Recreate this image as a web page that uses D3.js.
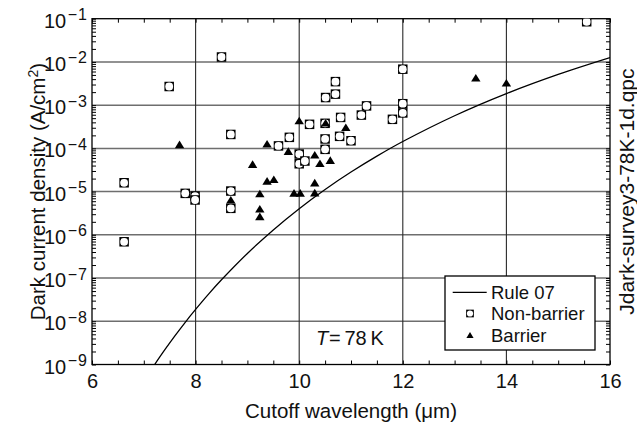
<!DOCTYPE html>
<html><head><meta charset="utf-8">
<script src="https://cdn.jsdelivr.net/npm/d3@7"></script>
<style>
body{margin:0;background:#fff}
svg{display:block}
text{font-family:"Liberation Sans",Arial,Helvetica,sans-serif;fill:#111}
</style>
</head><body>
<svg id="c" width="637" height="427"></svg>
<script>
// ---- data ----
const xTickLabels = [6, 8, 10, 12, 14, 16];
const yTickExponents = [-9, -8, -7, -6, -5, -4, -3, -2, -1];

const nonBarrierLambda = [6.62, 6.62, 7.49, 7.80, 7.99, 7.99, 8.50, 8.68, 8.68, 8.68, 9.60, 9.81, 10.00, 10.00, 10.11, 10.20, 10.51, 10.50, 10.50, 10.50, 10.70, 10.70, 10.78, 10.80, 11.00, 11.20, 11.30, 11.80, 12.00, 12.00, 12.00, 15.55];
const nonBarrierJ = [1.6e-5, 6.9e-7, 2.7e-3, 9.1e-6, 7.9e-6, 6.4e-6, 1.3e-2, 2.1e-4, 1.03e-5, 4.1e-6, 1.14e-4, 1.8e-4, 7.4e-5, 4.4e-5, 5.1e-5, 3.6e-4, 1.5e-3, 3.8e-4, 1.65e-4, 9.5e-5, 3.5e-3, 1.8e-3, 1.9e-4, 5.2e-4, 1.5e-4, 5.9e-4, 9.6e-4, 4.7e-4, 6.8e-3, 1.08e-3, 6.6e-4, 8.5e-2];

const barrierLambda = [7.69, 8.68, 9.10, 9.24, 9.24, 9.24, 9.38, 9.38, 9.51, 9.79, 9.90, 10.02, 10.00, 10.30, 10.30, 10.30, 10.40, 10.51, 10.60, 10.90, 13.41, 14.00];
const barrierJ = [1.2e-4, 6.3e-6, 4.2e-5, 8.8e-6, 3.9e-6, 2.6e-6, 1.24e-4, 1.72e-5, 1.88e-5, 8.4e-5, 9.1e-6, 9.1e-6, 4.3e-4, 6.9e-5, 1.57e-5, 9.2e-6, 4.4e-5, 3.8e-4, 5.2e-5, 3.0e-4, 4.2e-3, 3.2e-3];

const rule07Lambda = [7.2, 7.4, 7.6, 7.8, 8.0, 8.25, 8.5, 9.0, 9.5, 10.0, 10.5, 11.0, 11.5, 12.0, 13.0, 14.0, 15.0, 16.0];
const rule07J = [9.6e-10, 2.14e-9, 4.59e-9, 9.48e-9, 1.88e-8, 4.25e-8, 9.1e-8, 3.71e-7, 1.30e-6, 4.03e-6, 1.12e-5, 2.83e-5, 6.61e-5, 1.44e-4, 5.69e-4, 1.85e-3, 5.14e-3, 1.26e-2];

const legendLabels = ["Rule 07", "Non-barrier", "Barrier"];

// ---- layout ----
const L = 92, R = 610, T = 18.7, B = 364.5;
const svg = d3.select("#c");
const x = d3.scaleLinear().domain([xTickLabels[0], xTickLabels[xTickLabels.length-1]]).range([L, R]);
const y = d3.scaleLog().domain([Math.pow(10, yTickExponents[0]), Math.pow(10, yTickExponents[yTickExponents.length-1])]).range([B, T]);

svg.append("defs").append("clipPath").attr("id","plot")
  .append("rect").attr("x",L).attr("y",T).attr("width",R-L).attr("height",B-T);

// grid
const decades = yTickExponents.map(e => Math.pow(10, e));
svg.append("g").selectAll("line").data(decades.slice(1, -1)).join("line")
  .attr("x1", L).attr("x2", R).attr("y1", d => y(d)).attr("y2", d => y(d))
  .attr("stroke", "#6e6e6e").attr("stroke-width", 1.5);
svg.append("g").selectAll("line").data(xTickLabels.slice(1, -1)).join("line")
  .attr("y1", T).attr("y2", B).attr("x1", d => x(d)).attr("x2", d => x(d))
  .attr("stroke", "#2a2a2a").attr("stroke-width", 1.1);

// minor tick positions
const xMinor = d3.range(xTickLabels[0], xTickLabels[xTickLabels.length-1] + 0.01, 0.5);
const yMinor = [];
yTickExponents.forEach((e, i) => {
  if (i < yTickExponents.length - 1) { for (let m = 1; m <= 9; m++) yMinor.push(m * Math.pow(10, e)); }
  else yMinor.push(Math.pow(10, e));
});

function styleTicks(g) {
  g.select(".domain").remove();
  g.selectAll(".tick line").attr("stroke", "#000").attr("stroke-width", 1);
}
svg.append("g").attr("transform", `translate(0,${B})`)
  .call(d3.axisBottom(x).tickValues(xMinor).tickSize(-4).tickFormat(() => "")).call(styleTicks);
svg.append("g").attr("transform", `translate(0,${T})`)
  .call(d3.axisTop(x).tickValues(xMinor).tickSize(-4).tickFormat(() => "")).call(styleTicks);
svg.append("g").attr("transform", `translate(${L},0)`)
  .call(d3.axisLeft(y).tickValues(yMinor).tickSize(-4).tickFormat(() => "")).call(styleTicks);
svg.append("g").attr("transform", `translate(${R},0)`)
  .call(d3.axisRight(y).tickValues(yMinor).tickSize(-4).tickFormat(() => "")).call(styleTicks);

// x tick labels
const xl = svg.append("g").attr("transform", `translate(0,${B})`)
  .call(d3.axisBottom(x).tickValues(xTickLabels).tickSize(0).tickFormat(d3.format("d")));
xl.select(".domain").remove();
xl.attr("font-size", 20).attr("font-family", null);
xl.selectAll(".tick text").attr("y", 23.5).attr("dy", null).attr("fill", "#111");

// y tick labels with superscripts
const yl = svg.append("g").attr("transform", `translate(${L},0)`)
  .call(d3.axisLeft(y).tickValues(decades).tickSize(0).tickFormat(() => ""));
yl.select(".domain").remove();
yl.attr("font-size", 20).attr("font-family", null);
yl.selectAll(".tick text").each(function(d) {
  const t = d3.select(this).attr("x", -4).attr("y", 8.5).attr("dy", null).attr("fill", "#111");
  t.append("tspan").text("10");
  t.append("tspan").attr("dy", -7.5).attr("dx", 1.5).attr("font-size", 16).attr("letter-spacing", 1)
    .text("\u2212" + Math.abs(Math.round(Math.log10(d))));
});

// frame
svg.append("rect").attr("x", L).attr("y", T).attr("width", R-L).attr("height", B-T)
  .attr("fill", "none").attr("stroke", "#000").attr("stroke-width", 1.3);

// plot layer
const plot = svg.append("g").attr("clip-path", "url(#plot)");

const rule = rule07Lambda.map((l, i) => [l, rule07J[i]]);
plot.append("path").datum(rule)
  .attr("d", d3.line().x(d => x(d[0])).y(d => y(d[1])).curve(d3.curveCatmullRom))
  .attr("fill", "none").attr("stroke", "#000").attr("stroke-width", 1.3);

function drawSquare(g, s, r) {
  g.append("rect").attr("x", -s/2).attr("y", -s/2).attr("width", s).attr("height", s)
    .attr("fill", "#fff").attr("stroke", "#000").attr("stroke-width", 1.7);
  g.append("circle").attr("r", r).attr("fill", "#fff");
}
function triPath(w, h) {
  return `M0,${-h*0.57}L${w/2},${h*0.43}L${-w/2},${h*0.43}Z`;
}

const nb = nonBarrierLambda.map((l, i) => [l, nonBarrierJ[i]]);
plot.append("g").selectAll("g").data(nb).join("g")
  .attr("transform", d => `translate(${x(d[0])},${y(d[1])})`)
  .each(function() { drawSquare(d3.select(this), 7.8, 3.9); });

const br = barrierLambda.map((l, i) => [l, barrierJ[i]]);
plot.append("g").selectAll("path").data(br).join("path")
  .attr("transform", d => `translate(${x(d[0])},${y(d[1])})`)
  .attr("d", triPath(9.4, 7.6)).attr("fill", "#000");

// legend
const lg = svg.append("g");
lg.append("rect").attr("x", 445).attr("y", 276).attr("width", 150).attr("height", 74)
  .attr("fill", "#fff").attr("stroke", "#000").attr("stroke-width", 1.3);
lg.append("line").attr("x1", 452.7).attr("x2", 486.7).attr("y1", 292.3).attr("y2", 292.3)
  .attr("stroke", "#000").attr("stroke-width", 1.3);
const sq = lg.append("g").attr("transform", "translate(470,313.5)");
drawSquare(sq, 6, 3.1);
lg.append("path").attr("transform", "translate(470,335.5)").attr("d", triPath(7.2, 6)).attr("fill", "#000");
lg.selectAll("text").data(legendLabels).join("text")
  .attr("x", 491).attr("y", (d, i) => 298.5 + i * 21.7)
  .attr("font-size", 18.5).text(d => d);

// T = 78 K annotation
const ann = svg.append("text").attr("y", 345).attr("font-size", 20);
ann.append("tspan").attr("x", 316).attr("font-style", "italic").text("T");
ann.append("tspan").attr("x", 329).text("=");
ann.append("tspan").attr("x", 344.5).text("78");
ann.append("tspan").attr("x", 370.5).text("K");

// axis titles
svg.append("text").attr("x", (L+R)/2).attr("y", 418).attr("text-anchor", "middle")
  .attr("font-size", 20.5).text("Cutoff wavelength (\u03bcm)");
const yt = svg.append("text").attr("transform", `translate(45,${(T+B)/2}) rotate(-90)`)
  .attr("text-anchor", "middle").attr("font-size", 20.5);
yt.append("tspan").text("Dark current density (A/cm");
yt.append("tspan").attr("dy", -7.5).attr("font-size", 14).text("2");
yt.append("tspan").attr("dy", 7.5).text(")");

svg.append("text").attr("transform", `translate(634,${(T+B)/2}) rotate(-90)`)
  .attr("text-anchor", "middle").attr("font-size", 21).text("Jdark-survey3-78K-1d.qpc");
</script>
</body></html>
